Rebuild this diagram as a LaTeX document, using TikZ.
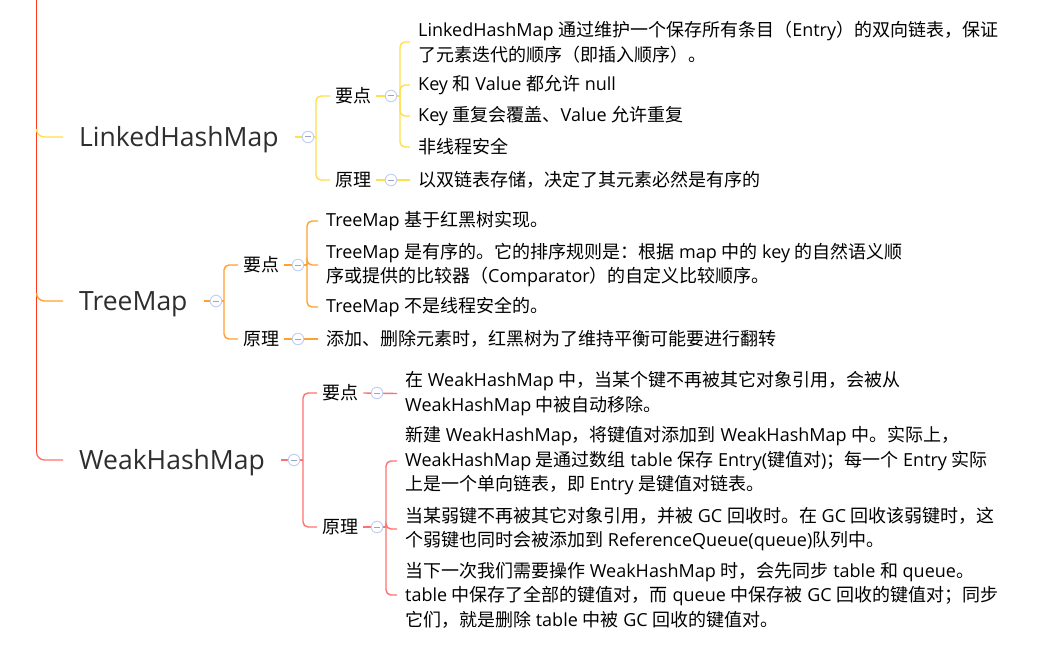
\documentclass[tikz,border=0pt]{standalone}
\usepackage{fontspec}
\setmainfont{Open Sans}
\newfontfamily\latinfont{Open Sans}
\newfontfamily\cjkfont{Noto Sans CJK SC}
% switch to the CJK font for CJK characters
\XeTeXinterchartokenstate=1
\newXeTeXintercharclass\cjkclass
\newcount\cjkchar
\cjkchar="3000
\loop\XeTeXcharclass\cjkchar=\cjkclass\advance\cjkchar by 1 \ifnum\cjkchar<"3040 \repeat
\cjkchar="4E00
\loop\XeTeXcharclass\cjkchar=\cjkclass\advance\cjkchar by 1 \ifnum\cjkchar<"A000 \repeat
\cjkchar="FF00
\loop\XeTeXcharclass\cjkchar=\cjkclass\advance\cjkchar by 1 \ifnum\cjkchar<"FFF0 \repeat
\XeTeXinterchartoks 0 \cjkclass = {\cjkfont}
\XeTeXinterchartoks 4095 \cjkclass = {\cjkfont}
\XeTeXinterchartoks \cjkclass 0 = {\latinfont}
\XeTeXinterchartoks \cjkclass 4095 = {\latinfont}
\definecolor{trunkred}{HTML}{FF3A1A}
\definecolor{lhmyellow}{HTML}{FFDF4A}
\definecolor{tmorange}{HTML}{FFA030}
\definecolor{whmred}{HTML}{FF7070}
\definecolor{foldblue}{HTML}{C2D0F2}
\definecolor{foldminus}{HTML}{98A6C6}
\definecolor{topicgray}{HTML}{2E2E2E}
\usepackage{tikz}

\begin{document}
\begin{tikzpicture}[x=1pt,y=-1pt]
    \tikzset{topic/.style = {anchor=west,inner xsep=16pt,inner ysep=0pt,text height=19pt,text depth=0pt,text=topicgray,font=\fontsize{26.5}{30}\selectfont}}
    \tikzset{sub/.style = {anchor=west,inner xsep=5pt,inner ysep=0pt,text=black,font=\fontsize{18}{24}\selectfont}}
    \tikzset{leaf/.style = {anchor=west,inner xsep=8pt,inner ysep=0pt,align=left,text=black,font=\fontsize{18}{24.5}\selectfont}}
    \tikzset{fold/.style = {circle,draw=foldblue,fill=white,line width=1pt,minimum size=11.5pt,inner sep=0pt,
      path picture={\draw[foldminus,line width=1pt] ([xshift=-3pt]path picture bounding box.center) -- ([xshift=3pt]path picture bounding box.center);}}}
    \tikzset{trunk/.style = {draw=trunkred,line width=1.6pt}}
    \tikzset{lhm/.style = {draw=lhmyellow,line width=1.4pt,rounded corners=5pt}}
    \tikzset{tm/.style = {draw=tmorange,line width=1.4pt,rounded corners=5pt}}
    \tikzset{whm/.style = {draw=whmred,line width=1.4pt,rounded corners=5pt}}
    \useasboundingbox (0,0) rectangle (1039,650);
    % topics
    \coordinate (root) at (36.5,0);
    \node[topic] (LHM) at (63,137) {LinkedHashMap};
    \node[topic] (TM) at (63,301) {TreeMap};
    \node[topic] (WHM) at (63,460) {WeakHashMap};
    \draw[trunk] (root) -- ([yshift=8pt]root |- WHM.west);
    \draw[lhm,rounded corners=8pt] ([yshift=8pt]root |- LHM.west) |- (LHM.west);
    \draw[tm,rounded corners=8pt] ([yshift=8pt]root |- TM.west) |- (TM.west);
    \draw[whm,rounded corners=8pt] ([yshift=8pt]root |- WHM.west) |- (WHM.west);
%%%%%%%%%%%%%%%%%
    \coordinate (bLHM) at (316,137);
    \node[sub] (kLHM) at (330,96) {要点};
    \node[sub] (yLHM) at (330,180) {原理};
    \coordinate (bkLHM) at (400,96);
    \node[leaf] (lk1) at (410,42) {LinkedHashMap 通过维护一个保存所有条目（Entry）的双向链表，保证\\了元素迭代的顺序（即插入顺序）。};
    \node[leaf] (lk2) at (410,85) {Key 和 Value 都允许 null};
    \node[leaf] (lk3) at (410,116) {Key 重复会覆盖、Value 允许重复};
    \node[leaf] (lk4) at (410,147) {非线程安全};
    \node[leaf] (ly1) at (410,180) {以双链表存储，决定了其元素必然是有序的};
    \draw[lhm] (LHM.east) -- (bLHM);
    \draw[lhm] (bLHM) |- (kLHM.west);
    \draw[lhm] (bLHM) |- (yLHM.west);
    \draw[lhm] (kLHM.east) -- (bkLHM);
    \draw[lhm] (bkLHM) |- (lk1.west);
    \draw[lhm] (bkLHM) |- (lk2.west);
    \draw[lhm] (bkLHM) |- (lk3.west);
    \draw[lhm] (bkLHM) |- (lk4.west);
    \draw[lhm] (yLHM.east) -- (ly1.west);
    \node[fold] (fLHM) at (308,137) {};
    \node[fold] (fkLHM) at (391,96) {};
    \node[fold] (fyLHM) at (391,180) {};
%%%%%%%%%%%%%%%%%
    \coordinate (bTM) at (224,301);
    \node[sub] (kTM) at (238,265) {要点};
    \node[sub] (yTM) at (238,339) {原理};
    \coordinate (bkTM) at (307,265);
    \node[leaf] (tk1) at (318,221) {TreeMap 基于红黑树实现。};
    \node[leaf] (tk2) at (318,265) {TreeMap 是有序的。它的排序规则是：根据 map 中的 key 的自然语义顺\\序或提供的比较器（Comparator）的自定义比较顺序。};
    \node[leaf] (tk3) at (318,307) {TreeMap 不是线程安全的。};
    \node[leaf] (ty1) at (318,339) {添加、删除元素时，红黑树为了维持平衡可能要进行翻转};
    \draw[tm] (TM.east) -- (bTM);
    \draw[tm] (bTM) |- (kTM.west);
    \draw[tm] (bTM) |- (yTM.west);
    \draw[tm] (kTM.east) -- (bkTM);
    \draw[tm] (bkTM) |- (tk1.west);
    \draw[tm] (bkTM) |- (tk2.west);
    \draw[tm] (bkTM) |- (tk3.west);
    \draw[tm] (yTM.east) -- (ty1.west);
    \node[fold] (fTM) at (216,301) {};
    \node[fold] (fkTM) at (298,265) {};
    \node[fold] (fyTM) at (298,339) {};
%%%%%%%%%%%%%%%%%
    \coordinate (bWHM) at (303,460);
    \node[sub] (kWHM) at (317,393) {要点};
    \node[sub] (yWHM) at (317,527) {原理};
    \coordinate (byWHM) at (386,527);
    \node[leaf] (wk1) at (397,393.5) {在 WeakHashMap 中，当某个键不再被其它对象引用，会被从\\WeakHashMap 中被自动移除。};
    \node[leaf] (wy1) at (397,461) {新建 WeakHashMap，将键值对添加到 WeakHashMap 中。实际上，\\WeakHashMap 是通过数组 table 保存 Entry(键值对)；每一个 Entry 实际\\上是一个单向链表，即 Entry 是键值对链表。};
    \node[leaf] (wy2) at (397,529) {当某弱键不再被其它对象引用，并被 GC 回收时。在 GC 回收该弱键时，这\\个弱键也同时会被添加到 ReferenceQueue(queue)队列中。};
    \node[leaf] (wy3) at (397,595) {当下一次我们需要操作 WeakHashMap 时，会先同步 table 和 queue。\\table 中保存了全部的键值对，而 queue 中保存被 GC 回收的键值对；同步\\它们，就是删除 table 中被 GC 回收的键值对。};
    \draw[whm] (WHM.east) -- (bWHM);
    \draw[whm] (bWHM) |- (kWHM.west);
    \draw[whm] (bWHM) |- (yWHM.west);
    \draw[whm] (kWHM.east) -- (wk1.west);
    \draw[whm] (yWHM.east) -- (byWHM);
    \draw[whm] (byWHM) |- (wy1.west);
    \draw[whm] (byWHM) |- (wy2.west);
    \draw[whm] (byWHM) |- (wy3.west);
    \node[fold] (fWHM) at (294,460) {};
    \node[fold] (fkWHM) at (377,393) {};
    \node[fold] (fyWHM) at (377,527) {};
\end{tikzpicture}
\end{document}
